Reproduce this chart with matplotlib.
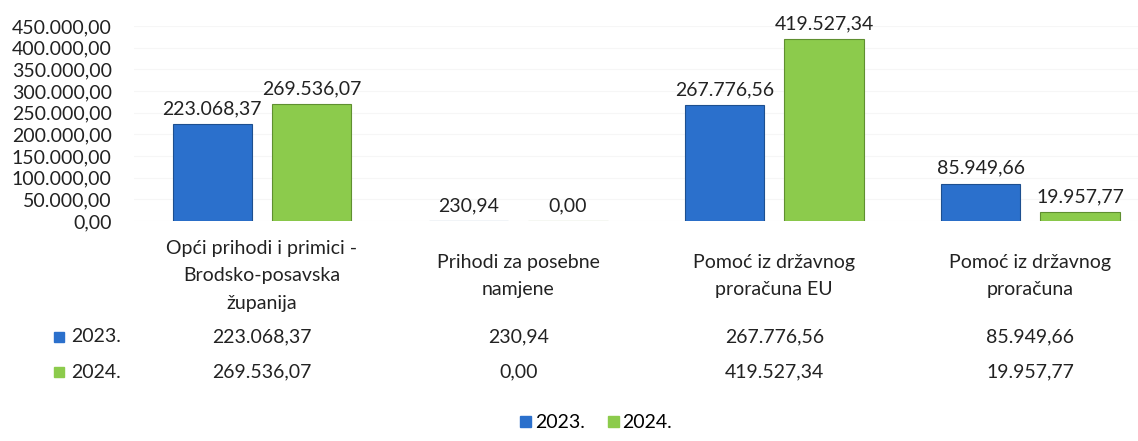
import matplotlib
matplotlib.use("Agg")
import matplotlib.pyplot as plt
from matplotlib.patches import Rectangle
from matplotlib.transforms import blended_transform_factory
import numpy as np

plt.rcParams['font.family'] = ['Lato', 'DejaVu Sans']

categories = ["Opći prihodi i primici -\nBrodsko-posavska\nžupanija",
              "Prihodi za posebne\nnamjene",
              "Pomoć iz državnog\nproračuna EU",
              "Pomoć iz državnog\nproračuna"]
series_names = ["2023.", "2024."]
values_2023 = [223068.37, 230.94, 267776.56, 85949.66]
values_2024 = [269536.07, 0.00, 419527.34, 19957.77]
yticks = [0, 50000, 100000, 150000, 200000, 250000, 300000, 350000, 400000, 450000]

colors = ["#2B70CC", "#8CCB4C"]
edges = ["#1d4f8f", "#5f8f30"]

def hr(v):
    s = f"{v:,.2f}"
    return s.replace(",", "X").replace(".", ",").replace("X", ".")

fig = plt.figure(figsize=(11.38, 4.41), dpi=100)
ax = fig.add_axes([134/1138, 1-221/441, 1-134/1138, 195/441])

x = np.arange(len(categories))
w = 0.31
off = 0.194
fs = 14
tc = "#222222"
for vals, dx, c, e in [(values_2023, -off, colors[0], edges[0]), (values_2024, off, colors[1], edges[1])]:
    bars = ax.bar(x + dx, vals, width=w, color=c, edgecolor=e, linewidth=0.8)
    for b, v in zip(bars, vals):
        ax.annotate(hr(v), (b.get_x() + b.get_width()/2, v), xytext=(0, 5),
                    textcoords="offset points", ha="center", va="bottom",
                    fontsize=fs, color=tc)

ax.set_xlim(-0.5, 3.42)
ax.set_ylim(0, 450000)
ax.set_yticks(yticks)
ax.set_yticklabels([hr(t) for t in yticks], fontsize=fs, color=tc)
ax.tick_params(axis='y', length=0, pad=16)
ax.set_xticks([])
for s in ax.spines.values():
    s.set_visible(False)
ax.grid(axis='y', color="#f6f6f6", linewidth=0.8)
ax.set_axisbelow(True)

tr = blended_transform_factory(ax.transData, fig.transFigure)
# category labels (vertically centred like Excel)
for i, cat in enumerate(categories):
    ax.text(i, 1-276/441, cat, transform=tr, ha="center", va="center",
            fontsize=fs, color=tc, linespacing=1.72)

# data table rows
row_y = [1-337/441, 1-372/441]
for r, (name, vals) in enumerate(zip(series_names, [values_2023, values_2024])):
    fig.patches.append(Rectangle((54/1138, row_y[r]-0.012), 10/1138, 10/441,
                                 transform=fig.transFigure, color=colors[r]))
    fig.text(71/1138, row_y[r], name, ha="left", va="center", fontsize=fs, color=tc)
    for i, v in enumerate(vals):
        ax.text(i, row_y[r], hr(v), transform=tr, ha="center", va="center",
                fontsize=fs, color=tc)

handles = [Rectangle((0, 0), 1, 1, color=c) for c in colors]
fig.legend(handles, series_names, loc="center", bbox_to_anchor=(0.524, 0.041),
           ncol=2, frameon=False, fontsize=fs, handlelength=0.55, handleheight=0.55,
           handletextpad=0.2, columnspacing=1.2)

fig.savefig("out.png", dpi=100)
